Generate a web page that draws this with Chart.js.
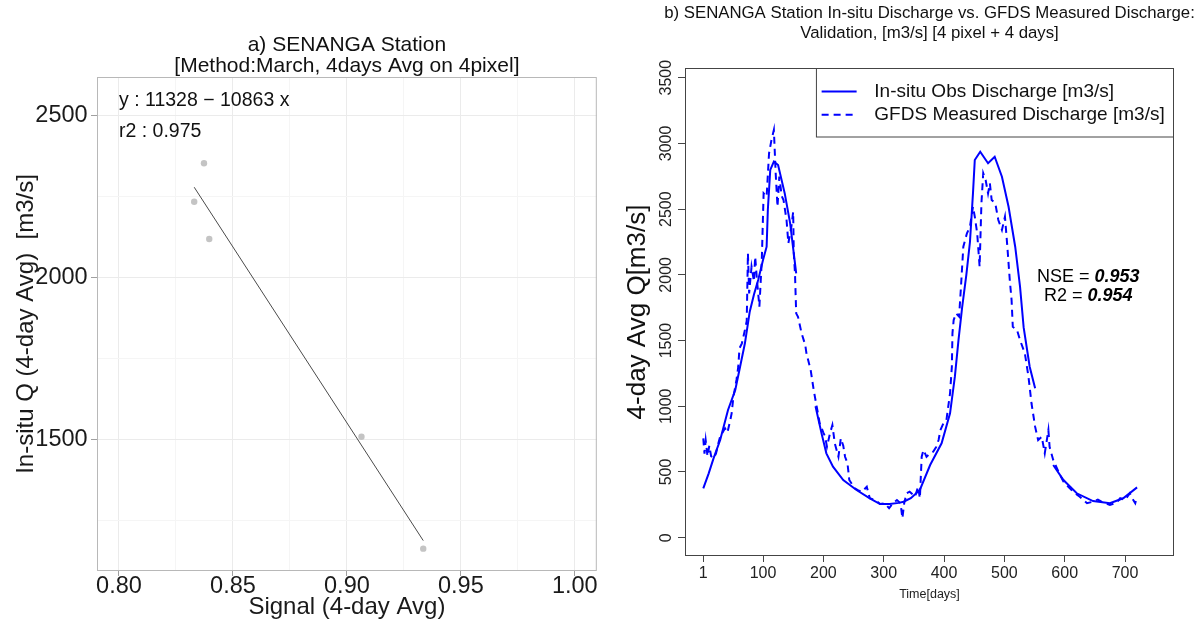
<!DOCTYPE html>
<html><head><meta charset="utf-8">
<script src="https://cdn.jsdelivr.net/npm/chart.js@4.4.1/dist/chart.umd.min.js"></script>
<style>
html,body{margin:0;padding:0;background:#fff;overflow:hidden;}
#wrap{position:relative;width:1196px;height:625px;background:#fff;}
#c1{position:absolute;left:0;top:0;}
#c2{position:absolute;left:600px;top:0;}
</style></head><body>
<div id="wrap"><canvas id="c1" width="600" height="625"></canvas><canvas id="c2" width="596" height="625"></canvas></div>
<script>
// ---------- Panel a) data ----------
const signalX = [0.8373, 0.8330, 0.8396, 0.9064, 0.9335];
const insituQ = [2353, 2234, 2119, 1508, 1162];
const fitX = [0.8330, 0.9335];
const fitY = [2279, 1187];
const aXMajor = [0.80, 0.85, 0.90, 0.95, 1.00];
const aXMinor = [0.825, 0.875, 0.925, 0.975];
const aYMajor = [1500, 2000, 2500];
const aYMinor = [1250, 1750, 2250];
const aTitle = ['a) SENANGA Station', '[Method:March, 4days Avg on 4pixel]'];
const aNotes = ['y : 11328 \u2212 10863 x', 'r2 : 0.975'];
const aXLabel = 'Signal (4-day Avg)';
const aYLabel = 'In-situ Q (4-day Avg)  [m3/s]';

// ---------- Panel b) data ----------
const obsDays = [1,10,18,29,42,54,62,70,78,85,92,100,106,108,112,118,125,136,145,155,170,187,197,205,216,233,255,277,294,310,325,333,345,360,377,396,410,418,424,430,437,443,448,451,460,473,484,496,507,518,526,532,542,551,565,581,598,620,647,675,697,720];
const obsQ = [376,490,604,743,972,1124,1301,1479,1720,1850,1961,2113,2214,2493,2798,2861,2836,2620,2392,2012,null,1000,794,642,540,439,363,300,256,256,265,274,300,363,553,718,946,1225,1504,1750,2000,2250,2620,2874,2937,2849,2899,2747,2518,2214,1910,1600,1301,1137,null,553,439,338,279,262,300,383];
const gfdsDays = [1,3,5,8,11,14,18,22,26,29,33,37,41,46,48,51,56,59,61,65,70,73,75,77,81,85,87,90,94,98,101,106,110,114,118,121,124,127,131,134,139,142,147,150,151,153,155,158,164,170,172,179,184,189,194,200,203,206,211,215,219,225,229,233,236,240,243,252,258,264,272,277,286,294,302,309,315,322,328,331,334,338,343,352,357,360,363,366,371,377,382,387,391,394,399,404,410,413,414,416,420,425,428,432,438,443,448,451,455,459,462,465,469,473,476,479,485,490,496,501,505,509,512,514,521,526,534,540,545,551,556,562,567,573,575,581,586,592,598,606,614,625,637,647,655,661,668,675,686,692,700,708,712,717,720];
const gfdsQ = [756,640,740,620,700,620,604,640,718,770,800,832,800,900,946,1073,1200,1301,1441,1479,1580,1650,2164,1859,2062,1950,2138,1960,1758,2113,2620,2595,2925,3026,3102,2773,2518,2747,2600,2569,2417,2240,2366,2480,2164,2012,1707,1680,1555,1466,1403,1276,1124,997,870,800,768,692,794,857,718,616,756,700,616,566,439,376,360,350,388,300,287,256,262,224,260,287,262,148,262,338,350,312,388,300,616,667,616,642,654,690,743,819,870,895,1099,1301,1555,1656,1707,1682,1900,2214,2316,2366,2518,2443,2316,2062,2544,2773,2722,2620,2696,2569,2544,2417,2341,2442,2214,1961,1808,1605,1580,1504,1403,1225,1023,845,743,768,642,819,692,591,540,480,426,388,350,312,262,274,290,274,260,249,267,300,287,338,300,262,312];
const bXTicks = [1,100,200,300,400,500,600,700];
const bYTicks = [0,500,1000,1500,2000,2500,3000,3500];
const bTitle = ['b) SENANGA Station In-situ Discharge vs. GFDS Measured Discharge:', 'Validation, [m3/s] [4 pixel + 4 days]'];
const bSeries = ['In-situ Obs Discharge [m3/s]', 'GFDS Measured Discharge [m3/s]'];
const bStats = [['NSE = ', '0.953'], ['R2 = ', '0.954']];
const bXLabel = 'Time[days]';
const bYLabel = '4-day Avg Q[m3/s]';

// ---------- helpers / plugins ----------
const FONT = '"Liberation Sans", Arial, Helvetica, sans-serif';
Chart.defaults.font.family = FONT;
Chart.defaults.color = '#1a1a1a';
const isIn = (arr, v) => arr.some(a => Math.abs(a - v) < 1e-9);
const pts = (xs, ys) => xs.map((x, i) => ({x: x, y: ys[i]}));

const frame = {
  id: 'frame',
  afterDatasetsDraw(chart, args, o) {
    const {ctx, chartArea: a} = chart;
    ctx.save();
    ctx.strokeStyle = o.color; ctx.lineWidth = o.width;
    ctx.strokeRect(a.left + 0.5, a.top + 0.5, a.right - a.left - 1, a.bottom - a.top - 1);
    ctx.restore();
  }
};
const notes = {
  id: 'notes',
  afterDatasetsDraw(chart, args, o) {
    if (!o.lines) return;
    const {ctx, scales: {x, y}} = chart;
    ctx.save();
    ctx.font = o.font; ctx.fillStyle = o.color;
    ctx.textAlign = 'left'; ctx.textBaseline = 'middle';
    o.lines.forEach((t, i) => ctx.fillText(t, x.getPixelForValue(o.at[i][0]), y.getPixelForValue(o.at[i][1])));
    ctx.restore();
  }
};
const panelTitle = {
  id: 'panelTitle',
  afterDraw(chart, args, o) {
    if (!o.lines) return;
    const {ctx, chartArea: a} = chart;
    ctx.save();
    ctx.font = o.font; ctx.fillStyle = o.color;
    ctx.textAlign = 'center'; ctx.textBaseline = 'middle';
    const cx = (a.left + a.right) / 2;
    o.lines.forEach((t, i) => ctx.fillText(t, cx, a.top + o.offsets[i]));
    ctx.restore();
  }
};
const stats = {
  id: 'stats',
  afterDatasetsDraw(chart, args, o) {
    if (!o.lines) return;
    const {ctx, scales: {x, y}} = chart;
    ctx.save();
    ctx.fillStyle = o.color; ctx.textBaseline = 'middle'; ctx.textAlign = 'left';
    o.lines.forEach((pair, i) => {
      ctx.font = o.font; const w1 = ctx.measureText(pair[0]).width;
      ctx.font = o.boldFont; const w2 = ctx.measureText(pair[1]).width;
      const cx = x.getPixelForValue(o.at[i][0]);
      const cy = y.getPixelForValue(o.at[i][1]);
      const x0 = cx - (w1 + w2) / 2;
      ctx.font = o.font; ctx.fillText(pair[0], x0, cy);
      ctx.font = o.boldFont; ctx.fillText(pair[1], x0 + w1, cy);
    });
    ctx.restore();
  }
};
const boxLegend = {
  id: 'boxLegend',
  afterDatasetsDraw(chart, args, o) {
    const {ctx, chartArea: a} = chart;
    const ds = chart.data.datasets;
    ctx.save();
    ctx.font = o.font;
    const tw = Math.max(...ds.map(d => ctx.measureText(d.label).width));
    const w = o.textX + tw + o.padRight;
    const left = a.right - w, top = a.top;
    ctx.fillStyle = '#fff'; ctx.fillRect(left, top, w, o.height);
    ctx.strokeStyle = o.borderColor; ctx.lineWidth = 1;
    ctx.strokeRect(left + 0.5, top + 0.5, w - 1, o.height - 1);
    ds.forEach((d, i) => {
      const yy = top + o.rows[i];
      ctx.strokeStyle = d.borderColor; ctx.lineWidth = d.borderWidth;
      ctx.setLineDash(d.borderDash || []);
      ctx.beginPath(); ctx.moveTo(left + o.sample[0], yy); ctx.lineTo(left + o.sample[1], yy); ctx.stroke();
      ctx.setLineDash([]);
      ctx.fillStyle = o.color; ctx.textAlign = 'left'; ctx.textBaseline = 'middle';
      ctx.fillText(d.label, left + o.textX, yy);
    });
    ctx.restore();
  }
};

// ---------- Chart a) ----------
new Chart(document.getElementById('c1'), {
  type: 'scatter',
  data: { datasets: [
    { label: 'Observations', data: pts(signalX, insituQ), pointRadius: 3.2, pointHoverRadius: 3.2,
      backgroundColor: '#c4c4c4', borderWidth: 0, order: 2 },
    { type: 'line', label: 'Linear fit', data: pts(fitX, fitY), borderColor: '#4a4a4a', borderWidth: 1,
      pointRadius: 0, showLine: true, fill: false, order: 1 }
  ]},
  plugins: [notes, frame],
  options: {
    responsive: false, animation: false, devicePixelRatio: 1,
    layout: { padding: { top: 0, right: 3, bottom: 0, left: 0 } },
    plugins: {
      legend: { display: false }, tooltip: { enabled: false },
      title: { display: true, text: aTitle, fullSize: false, color: '#111',
               font: { size: 21, weight: 'normal', lineHeight: '21.5px' }, padding: { top: 34, bottom: 0 } },
      notes: { lines: aNotes, at: [[0.80, 2548], [0.80, 2452]], font: '19.5px ' + FONT, color: '#111' },
      frame: { color: '#b8b8b8', width: 1 }
    },
    scales: {
      x: {
        type: 'linear', min: 0.79035, max: 1.00965,
        afterBuildTicks: s => { s.ticks = [...aXMajor, ...aXMinor].sort((p, q) => p - q).map(v => ({value: v})); },
        afterFit: s => { s.height = 54; s.paddingLeft = 0; s.paddingRight = 0; },
        ticks: { autoSkip: false, maxRotation: 0, minRotation: 0, padding: -1, color: '#1a1a1a',
                 font: { size: 23.5, lineHeight: 1 },
                 callback: v => isIn(aXMajor, v) ? v.toFixed(2) : '' },
        grid: { color: c => isIn(aXMajor, c.tick.value) ? '#ebebeb' : '#f5f5f5', lineWidth: 1,
                tickColor: c => isIn(aXMajor, c.tick.value) ? '#a0a0a0' : 'rgba(0,0,0,0)', tickLength: 5 },
        border: { display: false },
        title: { display: true, text: aXLabel, color: '#1a1a1a', font: { size: 24, lineHeight: 1 }, padding: { top: 0, bottom: 6 } }
      },
      y: {
        type: 'linear', min: 1093, max: 2619.6,
        afterBuildTicks: s => { s.ticks = [...aYMajor, ...aYMinor].sort((p, q) => p - q).map(v => ({value: v})); },
        afterFit: s => { s.width = 97; s.paddingTop = 0; s.paddingBottom = 0; },
        ticks: { autoSkip: false, padding: 3.4, color: '#1a1a1a', font: { size: 23.5, lineHeight: 1 },
                 callback: v => isIn(aYMajor, v) ? String(v) : '' },
        grid: { color: c => isIn(aYMajor, c.tick.value) ? '#ebebeb' : '#f5f5f5', lineWidth: 1,
                tickColor: c => isIn(aYMajor, c.tick.value) ? '#a0a0a0' : 'rgba(0,0,0,0)', tickLength: 6 },
        border: { display: false },
        title: { display: true, text: aYLabel, color: '#1a1a1a', font: { size: 24, lineHeight: 1 }, padding: { top: 14, bottom: 0 } }
      }
    }
  }
});

// ---------- Chart b) ----------
new Chart(document.getElementById('c2'), {
  type: 'line',
  data: { datasets: [
    { label: bSeries[0], data: pts(obsDays, obsQ), borderColor: '#0000ff', borderWidth: 2,
      pointRadius: 0, fill: false, tension: 0, spanGaps: false },
    { label: bSeries[1], data: pts(gfdsDays, gfdsQ), borderColor: '#0000ff', borderWidth: 2, borderDash: [7, 5],
      pointRadius: 0, fill: false, tension: 0, spanGaps: false }
  ]},
  plugins: [stats, boxLegend, frame, panelTitle],
  options: {
    responsive: false, animation: false, devicePixelRatio: 1,
    layout: { padding: { top: 68, right: 22, bottom: 0, left: 0 } },
    plugins: {
      legend: { display: false }, tooltip: { enabled: false }, title: { display: false },
      panelTitle: { lines: bTitle, offsets: [-54.7, -34.7], font: '16.8px ' + FONT, color: '#111' },
      stats: { lines: bStats, at: [[639, 1986], [639, 1839]], font: '18px ' + FONT, boldFont: 'italic bold 18px ' + FONT, color: '#000' },
      boxLegend: { font: '19px ' + FONT, color: '#111', borderColor: '#444', textX: 58.4, padRight: 9.3,
                   height: 69.5, rows: [23.4, 46.7], sample: [5.7, 40.7] },
      frame: { color: '#444', width: 1 }
    },
    scales: {
      x: {
        type: 'linear', min: -29.3, max: 781.2,
        afterBuildTicks: s => { s.ticks = bXTicks.map(v => ({value: v})); },
        afterFit: s => { s.height = 69; s.paddingLeft = 0; s.paddingRight = 0; },
        ticks: { autoSkip: false, maxRotation: 0, minRotation: 0, padding: 3.3, color: '#222',
                 font: { size: 16, lineHeight: 1 }, callback: v => String(v) },
        grid: { drawOnChartArea: false, tickLength: 6, color: '#444', tickColor: '#444' },
        border: { display: false },
        title: { display: true, text: bXLabel, color: '#222', font: { size: 12.5, lineHeight: 1 }, padding: { top: 0, bottom: 23.75 } }
      },
      y: {
        type: 'linear', min: -139.2, max: 3573.8,
        afterBuildTicks: s => { s.ticks = bYTicks.map(v => ({value: v})); },
        afterFit: s => { s.width = 85; s.paddingTop = 0; s.paddingBottom = 0; },
        ticks: { autoSkip: false, minRotation: 90, maxRotation: 90, crossAlign: 'center', padding: -6.5,
                 color: '#222', font: { size: 16, lineHeight: 1 }, callback: v => String(v) },
        grid: { drawOnChartArea: false, tickLength: 7, color: '#444', tickColor: '#444' },
        border: { display: false },
        title: { display: true, text: bYLabel, color: '#111', font: { size: 26, lineHeight: 1 }, padding: { top: 25, bottom: 0 } }
      }
    }
  }
});
</script>
</body></html>
